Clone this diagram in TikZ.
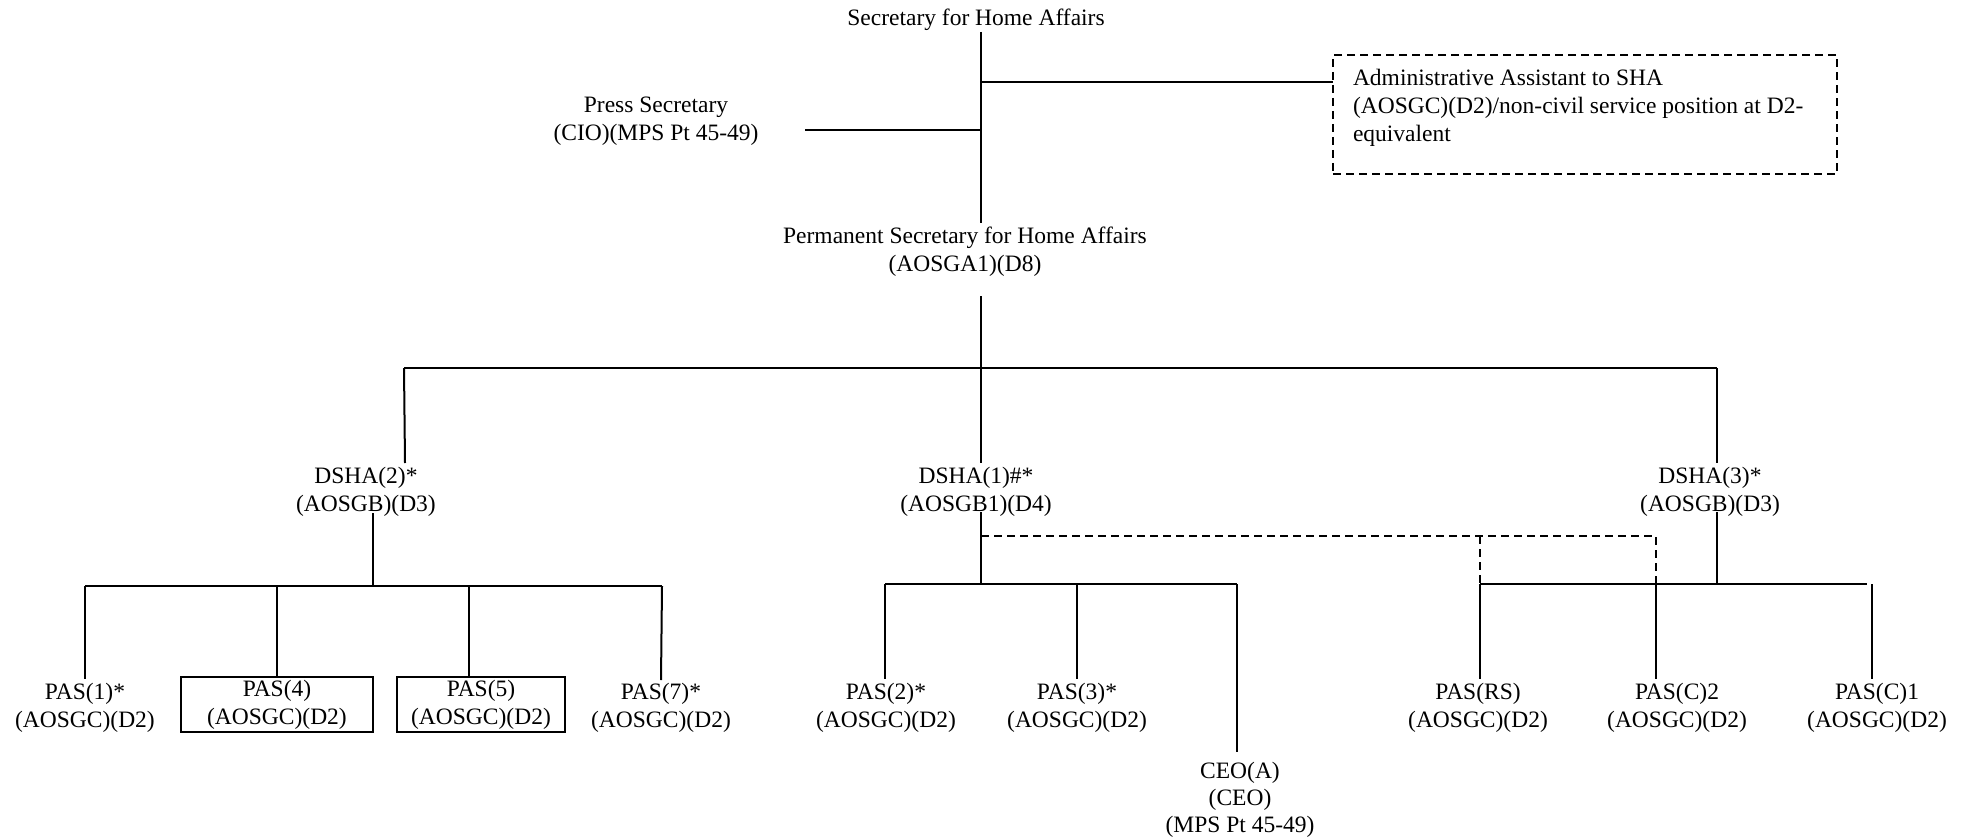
\documentclass[tikz,border=0pt]{standalone}
\usepackage{fontspec}
\setmainfont{Liberation Serif}
\begin{document}
\begin{tikzpicture}[x=1pt,y=-1pt,
  every node/.style={font=\fontsize{23.5}{28}\selectfont, inner sep=0pt, outer sep=0pt},
  lbl/.style={anchor=north, align=center},
  boxed/.style={draw, line width=2pt, minimum width=#1, minimum height=55pt, align=center},
  conn/.style={line width=2pt},
  dconn/.style={line width=2pt, dash pattern=on 8pt off 5pt}]
\useasboundingbox (0,0) rectangle (1969,837);
% nodes
\node[lbl] (sha) at (976,9) {Secretary for Home Affairs};
\node[lbl] (press) at (656,97) {Press Secretary\\(CIO)(MPS Pt 45-49)};
\node[draw, dconn, anchor=north west, minimum width=504pt, minimum height=119pt] (aa) at (1333,55) {};
\node[anchor=north west, align=left] (aatext) at (1353,69) {Administrative Assistant to SHA\\(AOSGC)(D2)/non-civil service position at D2-\\equivalent};
\node[lbl] (psha) at (965,227) {Permanent Secretary for Home Affairs\\(AOSGA1)(D8)};
\node[lbl] (dsha2) at (366,467) {DSHA(2)*\\(AOSGB)(D3)};
\node[lbl] (dsha1) at (976,467) {DSHA(1)\#*\\(AOSGB1)(D4)};
\node[lbl] (dsha3) at (1710,467) {DSHA(3)*\\(AOSGB)(D3)};
\node[lbl] (pas1) at (85,683) {PAS(1)*\\(AOSGC)(D2)};
\node[boxed=192pt] (pas4) at (277,704.5) {\raisebox{-2pt}{PAS(4)}\\\raisebox{-2pt}{(AOSGC)(D2)}};
\node[boxed=168pt] (pas5) at (481,704.5) {\raisebox{-2pt}{PAS(5)}\\\raisebox{-2pt}{(AOSGC)(D2)}};
\node[lbl] (pas7) at (661,683) {PAS(7)*\\(AOSGC)(D2)};
\node[lbl] (pas2) at (886,683) {PAS(2)*\\(AOSGC)(D2)};
\node[lbl] (pas3) at (1077,683) {PAS(3)*\\(AOSGC)(D2)};
\node[lbl, font=\fontsize{23.5}{27}\selectfont] (ceo) at (1240,762) {CEO(A)\\(CEO)\\(MPS Pt 45-49)};
\node[lbl] (pasrs) at (1478,683) {PAS(RS)\\(AOSGC)(D2)};
\node[lbl] (pasc2) at (1677,683) {PAS(C)2\\(AOSGC)(D2)};
\node[lbl] (pasc1) at (1877,683) {PAS(C)1\\(AOSGC)(D2)};
% junction coordinates
\coordinate (t0) at (981,32);
\coordinate (t1) at (981,223);
\coordinate (jaa) at (981,82);
\coordinate (jps) at (981,130);
\coordinate (pse) at (805,130);
\coordinate (p0) at (981,296);
\coordinate (bl) at (404,368);
\coordinate (bm) at (981,368);
\coordinate (br) at (1717,368);
\coordinate (d2t) at (405,463);
\coordinate (d1t) at (981,463);
\coordinate (d3t) at (1717,463);
% level 3 junctions
\coordinate (d2b) at (373,513);
\coordinate (d2j) at (373,586);
\coordinate (l2a) at (85,586);
\coordinate (l2b) at (277,586);
\coordinate (l2c) at (469,586);
\coordinate (l2d) at (662,586);
\coordinate (d1b) at (981,512);
\coordinate (d1j) at (981,584);
\coordinate (l1a) at (885,584);
\coordinate (l1b) at (1077,584);
\coordinate (l1c) at (1237,584);
\coordinate (d3b) at (1717,512);
\coordinate (d3j) at (1717,584);
\coordinate (l3a) at (1480,584);
\coordinate (l3b) at (1656,584);
\coordinate (l3c) at (1867,584);
\coordinate (l3d) at (1872,584);
\coordinate (dsa) at (981,536);
\coordinate (dsb) at (1480,536);
\coordinate (dsc) at (1656,536);
% connectors
\draw[conn] (t0) -- (t1);
\draw[conn] (jaa) -- (jaa -| aa.west);
\draw[conn] (pse) -- (jps);
\draw[conn] (p0) -- (bm);
\draw[conn] (bl) -- (br);
\draw[conn] (bl |- bm) -- (d2t);
\draw[conn] (bm) -- (d1t);
\draw[conn] (br) -- (d3t);
\draw[conn] (d2b) -- (d2j);
\draw[conn] (l2a) -- (l2d);
\draw[conn] (l2a) -- (85,679);
\draw[conn] (l2b) -- (pas4.north);
\draw[conn] (l2c) -- (l2c |- pas5.north);
\draw[conn] (l2d) -- (661,680);
\draw[conn] (d1b) -- (d1j);
\draw[conn] (l1a) -- (l1c);
\draw[conn] (l1a) -- (885,679);
\draw[conn] (l1b) -- (1077,679);
\draw[conn] (l1c) -- (1237,752);
\draw[conn] (d3b) -- (d3j);
\draw[conn] (l3a) -- (l3c);
\draw[conn] (l3a) -- (1480,679);
\draw[conn] (l3b) -- (1656,679);
\draw[conn] (l3d) -- (1872,679);
\draw[dconn] (dsa) -- (dsc) -- (l3b);
\draw[dconn] (dsb) -- (l3a);
\end{tikzpicture}
\end{document}
